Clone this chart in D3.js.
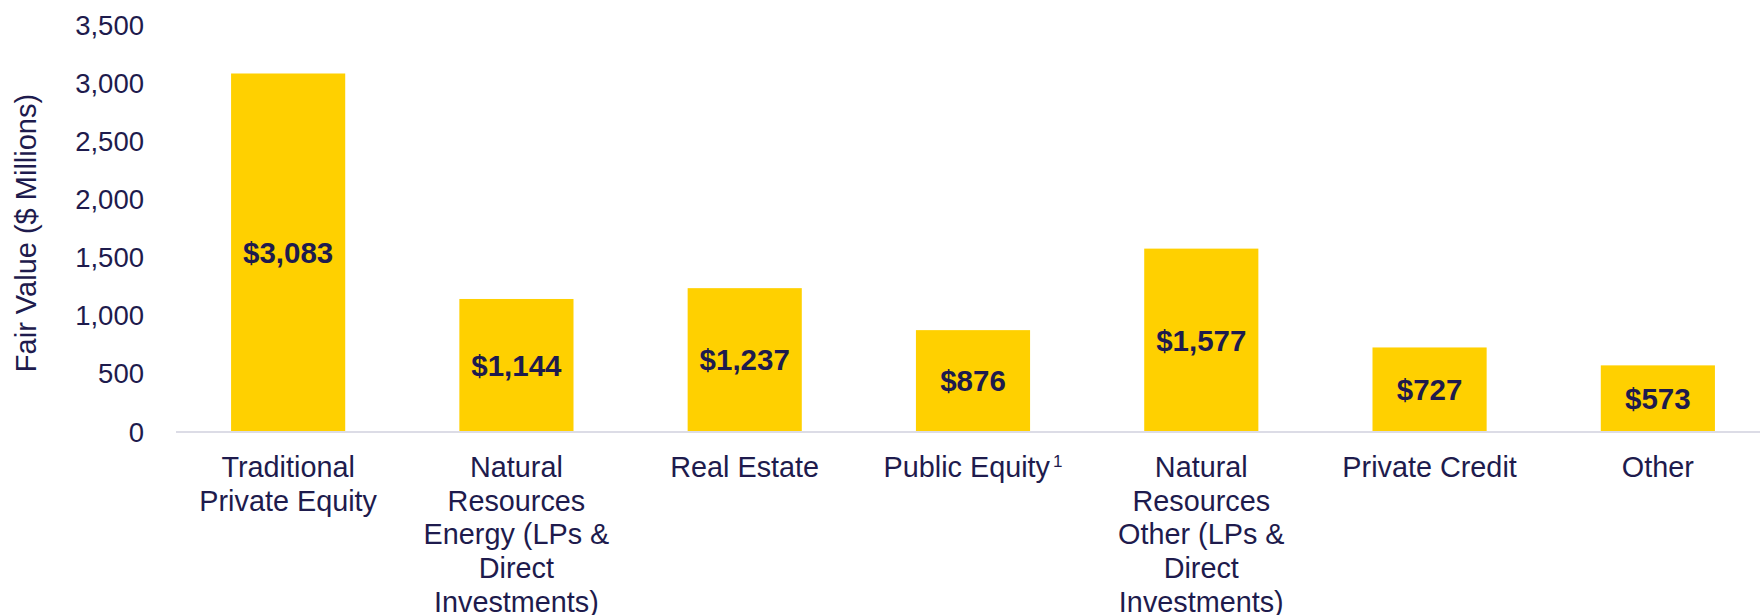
<!DOCTYPE html>
<html>
<head>
<meta charset="utf-8">
<script src="https://cdn.jsdelivr.net/npm/d3@7"></script>
<style>
  body { margin: 0; background: #fff; }
  text { font-family: "Liberation Sans", Arial, sans-serif; }
</style>
</head>
<body>
<div id="chart"></div>
<script>
// category labels, already broken into lines as in the original slide
const categories = [
    ["Traditional", "Private Equity"],
    ["Natural", "Resources", "Energy (LPs &", "Direct", "Investments)"],
    ["Real Estate"],
    ["Public Equity"],
    ["Natural", "Resources", "Other (LPs &", "Direct", "Investments)"],
    ["Private Credit"],
    ["Other"]
];
const footnotes = ["", "", "", "1", "", "", ""];
const values = [3083, 1144, 1237, 876, 1577, 727, 573];
const yTicks = [0, 500, 1000, 1500, 2000, 2500, 3000, 3500];
const yTitle = "Fair Value ($ Millions)";

const width = 1760, height = 615;
const textColor = "#1e1b4d";
const barColor = "#ffd000";

const svg = d3.select("#chart")
    .append("svg")
    .attr("width", width)
    .attr("height", height);

const x = d3.scaleBand()
    .domain(d3.range(values.length))
    .range([174, 1772])
    .paddingInner(0.5)
    .paddingOuter(0.25);

const y = d3.scaleLinear()
    .domain([0, 3500])
    .range([432, 25]);

// y tick labels (no axis line or tick marks in the original)
svg.append("g")
    .selectAll("text")
    .data(yTicks)
    .join("text")
    .attr("x", 144)
    .attr("y", d => y(d))
    .attr("dy", "0.35em")
    .attr("text-anchor", "end")
    .style("font-size", "27.5px")
    .style("fill", textColor)
    .text(d => d3.format(",")(d));

svg.append("text")
    .attr("transform", "rotate(-90)")
    .attr("x", -233)
    .attr("y", 36)
    .attr("text-anchor", "middle")
    .style("font-size", "29px")
    .style("fill", textColor)
    .text(yTitle);

// bars
svg.selectAll(".bar")
    .data(values)
    .join("rect")
    .attr("class", "bar")
    .attr("x", (d, i) => x(i))
    .attr("width", x.bandwidth())
    .attr("y", d => y(d))
    .attr("height", d => y(0) - y(d))
    .attr("fill", barColor);

// baseline
svg.append("line")
    .attr("x1", x.range()[0] + 2)
    .attr("x2", width)
    .attr("y1", y(0))
    .attr("y2", y(0))
    .attr("stroke", "#dcdce6")
    .attr("stroke-width", 2);

// value labels, centred in each bar
svg.selectAll(".bar-label")
    .data(values)
    .join("text")
    .attr("class", "bar-label")
    .attr("x", (d, i) => x(i) + x.bandwidth() / 2)
    .attr("y", d => (y(d) + y(0)) / 2)
    .attr("dy", "0.35em")
    .attr("text-anchor", "middle")
    .style("font-size", "29.5px")
    .style("font-weight", "bold")
    .style("fill", textColor)
    .text(d => "$" + d3.format(",")(d));

// category labels
const cat = svg.selectAll(".cat")
    .data(categories)
    .join("text")
    .attr("class", "cat")
    .attr("x", (d, i) => x(i) + x.bandwidth() / 2)
    .attr("y", 477)
    .attr("text-anchor", "middle")
    .style("font-size", "28.8px")
    .style("fill", textColor);

cat.each(function(lines, i) {
    const t = d3.select(this);
    const cx = x(i) + x.bandwidth() / 2;
    lines.forEach((line, j) => {
        t.append("tspan")
            .attr("x", cx)
            .attr("dy", j === 0 ? 0 : 33.7)
            .text(line);
    });
    if (footnotes[i]) {
        t.append("tspan")
            .attr("dx", 3)
            .attr("dy", -10)
            .style("font-size", "17px")
            .text(footnotes[i]);
    }
});
</script>
</body>
</html>
